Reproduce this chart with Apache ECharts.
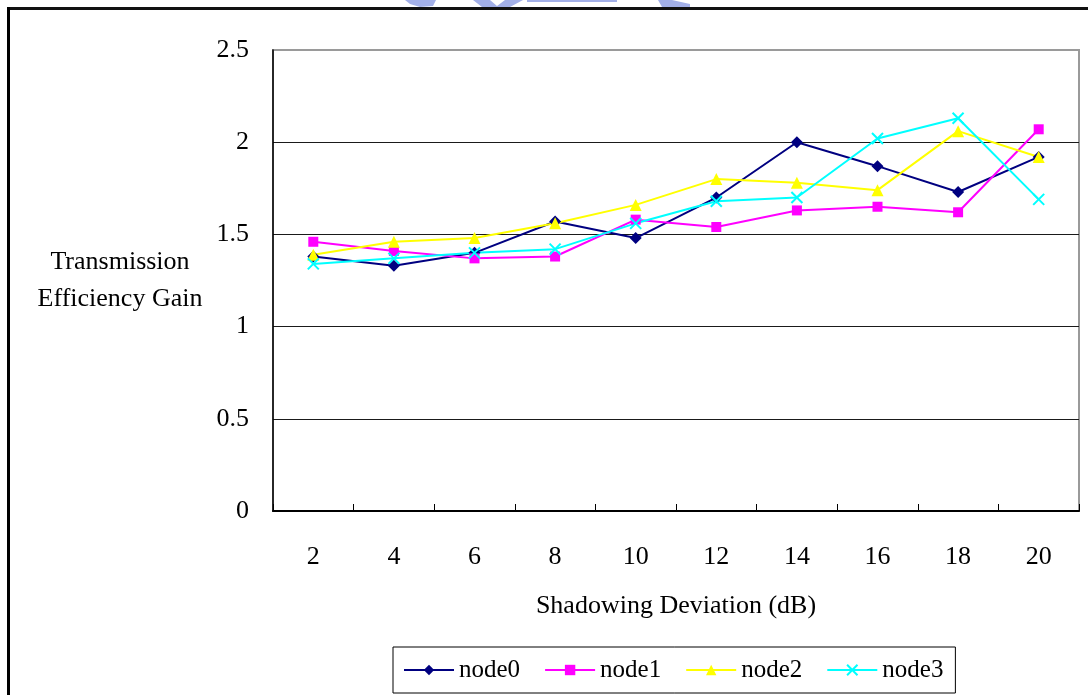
<!DOCTYPE html>
<html>
<head>
<meta charset="utf-8">
<style>
  html, body { margin: 0; padding: 0; background: #fff; }
  #chart { width: 1088px; height: 695px; }
</style>
<script src="https://cdn.jsdelivr.net/npm/echarts@6/dist/echarts.min.js"></script>
</head>
<body>
<div id="chart"></div>
<script>
// Shadowing deviation values (dB) on the category axis
const categories = ['2', '4', '6', '8', '10', '12', '14', '16', '18', '20'];

// Transmission efficiency gain per node
const node0 = [1.38, 1.33, 1.40, 1.57, 1.48, 1.70, 2.00, 1.87, 1.73, 1.92];
const node1 = [1.46, 1.41, 1.37, 1.38, 1.58, 1.54, 1.63, 1.65, 1.62, 2.07];
const node2 = [1.39, 1.46, 1.48, 1.56, 1.66, 1.80, 1.78, 1.74, 2.06, 1.92];
const node3 = [1.34, 1.37, 1.40, 1.42, 1.56, 1.68, 1.70, 2.02, 2.13, 1.69];

const seriesNames = ['node0', 'node1', 'node2', 'node3'];

const FONT = '"Liberation Serif", "DejaVu Serif", serif';
const crossPath = 'path://M0,0L10,10M10,0L0,10';

const chart = echarts.init(document.getElementById('chart'));

function lineSeries(name, data, color, symbol, size, extraItem) {
  return {
    name: name,
    type: 'line',
    data: data,
    symbol: symbol,
    symbolSize: size,
    showAllSymbol: true,
    animation: false,
    lineStyle: { color: color, width: 2 },
    itemStyle: Object.assign({ color: color }, extraItem || {}),
    emphasis: { disabled: true }
  };
}

chart.setOption({
  backgroundColor: '#fff',
  animation: false,
  textStyle: { fontFamily: FONT },
  grid: {
    left: 273, right: 9, top: 50, bottom: 184,
    show: true,
    borderColor: '#9a9a9a',
    borderWidth: 2,
    backgroundColor: 'transparent'
  },
  legend: {
    left: 393,
    top: 647,
    orient: 'horizontal',
    data: seriesNames,
    padding: [10, 12, 10, 10],
    itemGap: 24,
    itemWidth: 50,
    itemHeight: 13,
    borderColor: '#000',
    borderWidth: 1,
    backgroundColor: '#fff',
    textStyle: { fontFamily: FONT, fontSize: 25, lineHeight: 26, color: '#000' }
  },
  xAxis: {
    type: 'category',
    data: categories,
    boundaryGap: true,
    name: 'Shadowing Deviation (dB)',
    nameLocation: 'middle',
    nameGap: 95,
    nameTextStyle: { fontFamily: FONT, fontSize: 26, color: '#000', verticalAlign: 'middle' },
    axisLine: { lineStyle: { color: '#000', width: 2 } },
    axisTick: { show: true, inside: true, length: 7, lineStyle: { color: '#000', width: 1 } },
    axisLabel: { fontFamily: FONT, fontSize: 26, color: '#000', margin: 33 },
    splitLine: { show: false }
  },
  yAxis: {
    type: 'value',
    min: 0,
    max: 2.5,
    interval: 0.5,
    name: 'Transmission\nEfficiency Gain',
    nameLocation: 'middle',
    nameRotate: 0,
    nameGap: 153,
    nameTextStyle: {
      fontFamily: FONT, fontSize: 26, lineHeight: 37, color: '#000',
      align: 'center', verticalAlign: 'middle', padding: [7, 0, 0, 0]
    },
    axisLine: { show: true, lineStyle: { color: '#000', width: 1.5 } },
    axisTick: { show: false },
    axisLabel: { fontFamily: FONT, fontSize: 26, color: '#000', margin: 24 },
    splitLine: { show: true, showMaxLine: false, lineStyle: { color: '#1a1a1a', width: 1.2 } }
  },
  series: [
    lineSeries('node0', node0, '#000080', 'diamond', 12),
    lineSeries('node1', node1, '#FF00FF', 'rect', 10),
    lineSeries('node2', node2, '#FFFF00', 'triangle', 12),
    lineSeries('node3', node3, '#00FFFF', crossPath, 11,
      { borderColor: '#00FFFF', borderWidth: 2 })
  ],
  graphic: [
    // page frame: top rule and left rule
    { type: 'line', shape: { x1: 7, y1: 8.5, x2: 1088, y2: 8.5 },
      style: { stroke: '#111', lineWidth: 3 }, silent: true },
    { type: 'line', shape: { x1: 8.5, y1: 7, x2: 8.5, y2: 695 },
      style: { stroke: '#000', lineWidth: 3 }, silent: true },
    // faint emblem fragments above the top rule
    { type: 'polygon', shape: { points: [[405, 0], [436, 0], [433, 6], [420, 7], [410, 4]] },
      style: { fill: '#a3b0e8' }, silent: true },
    { type: 'polygon', shape: { points: [[473, 0], [490, 0], [497, 6], [505, 0], [523, 0], [510, 7], [482, 7]] },
      style: { fill: '#a3b0e8' }, silent: true },
    { type: 'rect', shape: { x: 527, y: 0, width: 90, height: 2 },
      style: { fill: '#a3b0e8' }, silent: true },
    { type: 'polygon', shape: { points: [[658, 0], [672, 0], [690, 4], [690, 7], [662, 7]] },
      style: { fill: '#a3b0e8' }, silent: true }
  ]
});
</script>
</body>
</html>
